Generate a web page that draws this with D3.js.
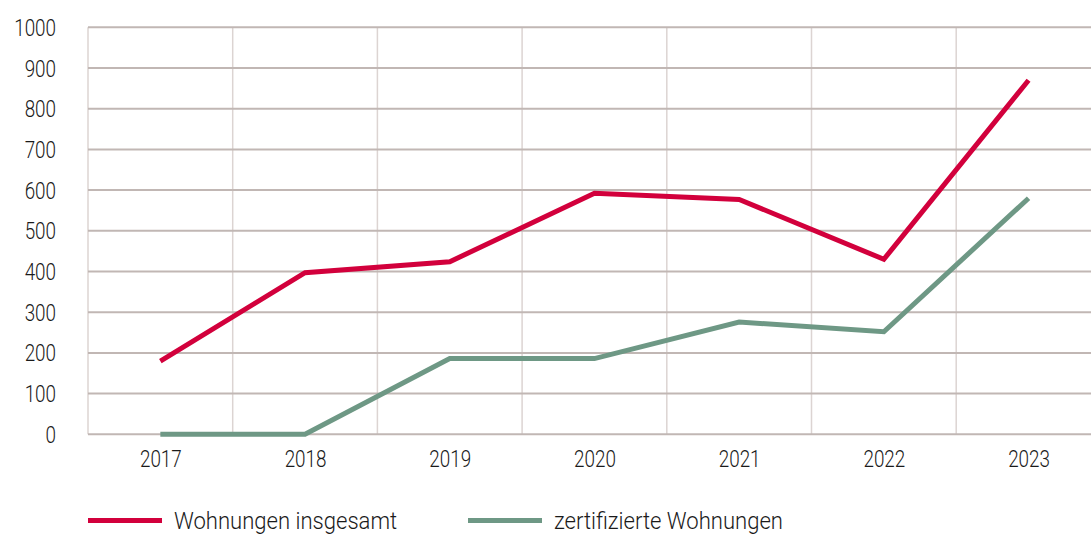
<!DOCTYPE html>
<html>
<head>
<meta charset="utf-8">
<script src="https://cdn.jsdelivr.net/npm/d3@7"></script>
<style>
  html, body { margin: 0; padding: 0; background: #fff; overflow: hidden; }
  svg text { font-family: Roboto, "DejaVu Sans Condensed", sans-serif; font-weight: 300; fill: #1a1a1a; }
</style>
</head>
<body>
<svg id="chart" width="1091" height="534"></svg>
<script>
// chart data
const years = ['2017', '2018', '2019', '2020', '2021', '2022', '2023'];
const wohnungenInsgesamt = [180, 397, 424, 592, 577, 430, 870];
const zertifizierteWohnungen = [0, 0, 186, 186, 276, 252, 580];
const yTicks = [0, 100, 200, 300, 400, 500, 600, 700, 800, 900, 1000];
const seriesNames = ['Wohnungen insgesamt', 'zertifizierte Wohnungen'];

const red = '#d2003c';
const green = '#6e9885';

const svg = d3.select('#chart');
const plotLeft = 88, plotTop = 27.3, plotBottom = 434.3;
const step = 144.7;
// condensed look of the original type
const squeezeDigits = 'scale(0.82,1)';
const squeezeWords = 'scale(0.96,1)';

// band-like x scale, points in the middle of each band
const x = d3.scalePoint()
  .domain(years)
  .range([plotLeft, plotLeft + years.length * step])
  .padding(0.5);

const y = d3.scaleLinear()
  .domain([0, 1000])
  .range([plotBottom, plotTop]);

// vertical gridlines at band boundaries
svg.append('g')
  .selectAll('line')
  .data(years)
  .enter()
  .append('line')
  .attr('x1', d => x(d) - step / 2)
  .attr('x2', d => x(d) - step / 2)
  .attr('y1', plotTop)
  .attr('y2', plotBottom)
  .attr('stroke', '#dcd4d2')
  .attr('stroke-width', 1.5);

// horizontal gridlines
svg.append('g')
  .selectAll('line')
  .data(yTicks)
  .enter()
  .append('line')
  .attr('x1', plotLeft)
  .attr('x2', 1091)
  .attr('y1', d => y(d))
  .attr('y2', d => y(d))
  .attr('stroke', '#c1b7b4')
  .attr('stroke-width', 2);

// y axis labels
const yAxis = svg.append('g')
  .attr('transform', 'translate(' + (plotLeft - 32) + ',0)')
  .call(d3.axisLeft(y).tickValues(yTicks).tickSize(0).tickPadding(0).tickFormat(d3.format('d')));
yAxis.select('.domain').remove();
yAxis.selectAll('text')
  .attr('font-size', 23)
  .attr('dy', '0.35em')
  .attr('transform', squeezeDigits)
  .style('fill', '#1a1a1a');

// x axis labels
const xAxis = svg.append('g')
  .attr('transform', 'translate(0,' + plotBottom + ')')
  .call(d3.axisBottom(x).tickSize(0).tickPadding(0));
xAxis.select('.domain').remove();
xAxis.selectAll('text')
  .attr('font-size', 23)
  .attr('y', 25)
  .attr('dy', '0.35em')
  .attr('transform', squeezeDigits)
  .style('fill', '#1a1a1a');

// lines
const line = d3.line()
  .x((d, i) => x(years[i]))
  .y(d => y(d));

svg.append('path')
  .datum(zertifizierteWohnungen)
  .attr('d', line)
  .attr('fill', 'none')
  .attr('stroke', green)
  .attr('stroke-width', 5);

svg.append('path')
  .datum(wohnungenInsgesamt)
  .attr('d', line)
  .attr('fill', 'none')
  .attr('stroke', red)
  .attr('stroke-width', 5);

// legend
const legend = svg.append('g')
  .selectAll('g')
  .data(seriesNames)
  .enter()
  .append('g')
  .attr('transform', (d, i) => 'translate(' + (88 + i * 380) + ',520.5)');

legend.append('line')
  .attr('x1', 0)
  .attr('x2', 74)
  .attr('stroke', (d, i) => i === 0 ? red : green)
  .attr('stroke-width', 5);

legend.append('text')
  .attr('transform', 'translate(86,0) ' + squeezeWords)
  .attr('dy', '0.35em')
  .attr('font-size', 23)
  .text(d => d);
</script>
</body>
</html>
